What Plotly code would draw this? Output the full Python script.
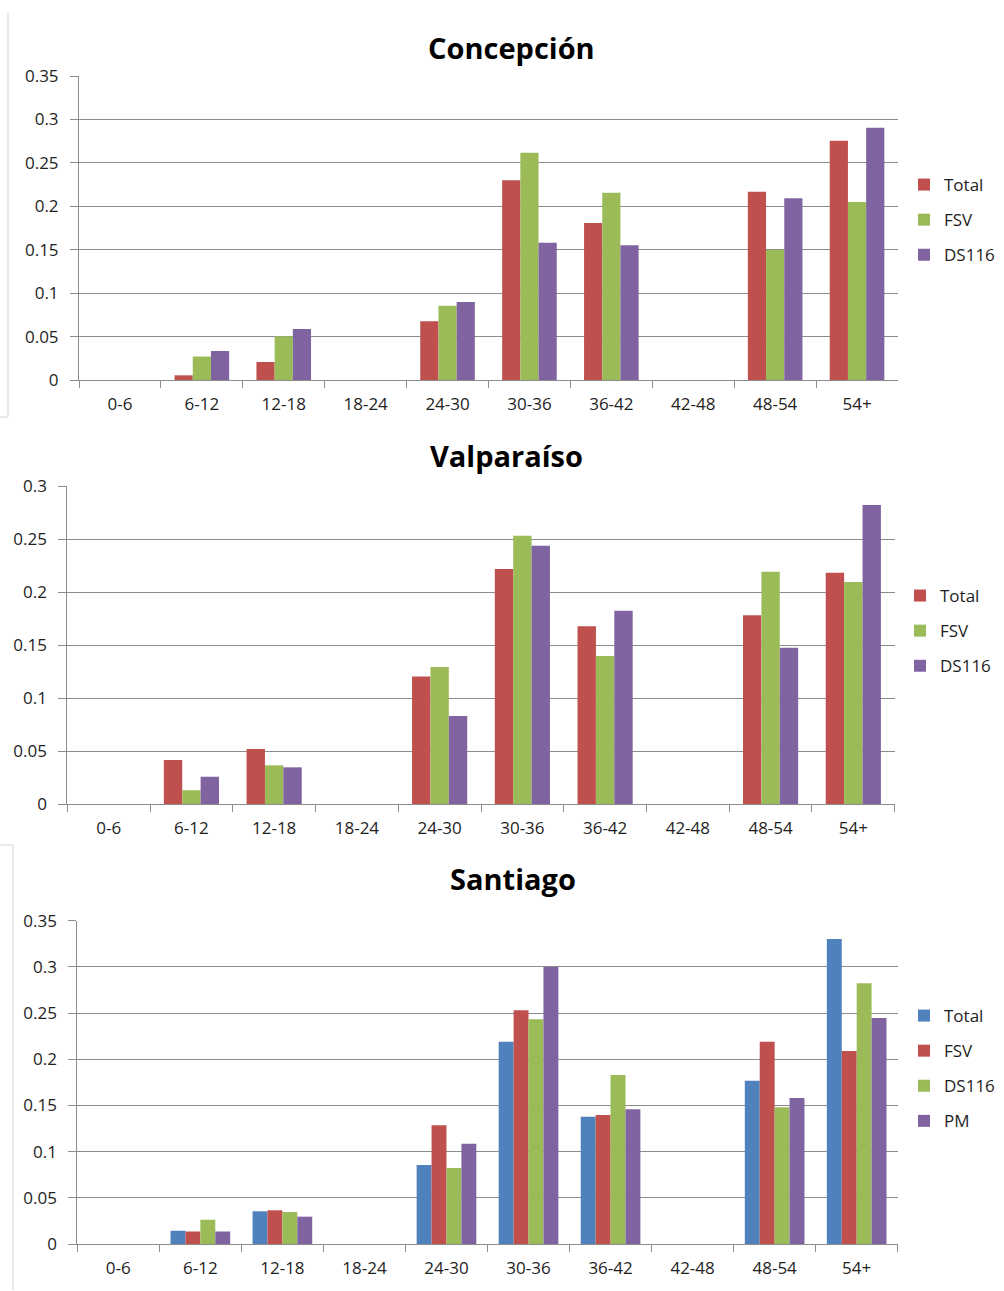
import plotly.graph_objects as go

W, H = 1004, 1291

age_groups = ["0-6", "6-12", "12-18", "18-24", "24-30", "30-36", "36-42", "42-48", "48-54", "54+"]

# Concepción
conc_total = [None, 0.0054, 0.0207, None, 0.0675, 0.2300, 0.1808, None, 0.2168, 0.2755]
conc_fsv = [None, 0.0270, 0.0503, None, 0.0856, 0.2617, 0.2157, None, 0.1497, 0.2049]
conc_ds116 = [None, 0.0334, 0.0587, None, 0.0898, 0.1580, 0.1550, None, 0.2092, 0.2905]

# Valparaíso
valp_total = [None, 0.0415, 0.0519, None, 0.1204, 0.2217, 0.1676, None, 0.1780, 0.2182]
valp_fsv = [None, 0.0129, 0.0365, None, 0.1292, 0.2531, 0.1396, None, 0.2192, 0.2094]
valp_ds116 = [None, 0.0258, 0.0346, None, 0.0830, 0.2437, 0.1824, None, 0.1475, 0.2821]

# Santiago
stgo_total = [None, 0.0144, 0.0354, None, 0.0855, 0.2190, 0.1378, None, 0.1768, 0.3302]
stgo_fsv = [None, 0.0134, 0.0365, None, 0.1285, 0.2530, 0.1396, None, 0.2190, 0.2089]
stgo_ds116 = [None, 0.0263, 0.0346, None, 0.0823, 0.2432, 0.1830, None, 0.1480, 0.2822]
stgo_pm = [None, 0.0134, 0.0296, None, 0.1086, 0.2998, 0.1458, None, 0.1580, 0.2446]

BLUE, RED, GREEN, PURPLE = "#4F81BD", "#C0504D", "#9BBB59", "#8064A2"
GRID = "#8c8c8c"
TXT = "#1e1e1e"
FONT = "Open Sans"
GAP = 1.5  # gap between groups, as a fraction of one bar width


def px_x(x):
    return x / W


def px_y(y):
    return 1 - y / H


panels = [
    dict(title="Concepción", axis="", legend="legend", ymax=0.35,
         x=(79, 898), y=(76, 380), title_pos=(511, 47), legend_pos=(904, 167),
         series=[("Total", conc_total, RED), ("FSV", conc_fsv, GREEN),
                 ("DS116", conc_ds116, PURPLE)]),
    dict(title="Valparaíso", axis="2", legend="legend2", ymax=0.30,
         x=(67.3, 894.7), y=(486, 804), title_pos=(506, 455), legend_pos=(900, 578),
         series=[("Total", valp_total, RED), ("FSV", valp_fsv, GREEN),
                 ("DS116", valp_ds116, PURPLE)]),
    dict(title="Santiago", axis="3", legend="legend3", ymax=0.35,
         x=(77.3, 897.7), y=(920.7, 1244), title_pos=(513, 879), legend_pos=(904, 998),
         series=[("Total", stgo_total, BLUE), ("FSV", stgo_fsv, RED),
                 ("DS116", stgo_ds116, GREEN), ("PM", stgo_pm, PURPLE)]),
]

fig = go.Figure()
layout = dict(
    width=W, height=H, margin=dict(l=0, r=0, t=0, b=0, pad=0, autoexpand=False),
    paper_bgcolor="white", plot_bgcolor="white",
    font=dict(family=FONT, size=17, color=TXT),
    barmode="group", showlegend=True, annotations=[], shapes=[],
)

for p in panels:
    n = len(p["series"])
    bw = 1.0 / (n + GAP)
    xa = "x" + p["axis"]
    ya = "y" + p["axis"]
    for i, (name, vals, color) in enumerate(p["series"]):
        fig.add_trace(go.Bar(
            x=age_groups, y=vals, name=name,
            marker=dict(color=color, line=dict(width=0)),
            width=bw, offset=-n * bw / 2 + i * bw,
            xaxis=xa, yaxis=ya, legend=p["legend"],
            legendgroup=p["legend"] + name,
        ))
    layout["xaxis" + p["axis"]] = dict(
        domain=[px_x(p["x"][0]), px_x(p["x"][1])], anchor=ya,
        type="category", categoryorder="array", categoryarray=age_groups,
        range=[-0.5, len(age_groups) - 0.5],
        showline=True, linecolor=GRID, linewidth=1,
        ticks="outside", tickson="boundaries", ticklen=7, tickcolor=GRID,
        showgrid=False, tickfont=dict(size=17, color=TXT), ticklabelstandoff=9,
    )
    layout["yaxis" + p["axis"]] = dict(
        domain=[px_y(p["y"][1]), px_y(p["y"][0])], anchor=xa,
        range=[0, p["ymax"]], dtick=0.05, tick0=0,
        showgrid=True, gridcolor=GRID, gridwidth=1, zeroline=False,
        showline=True, linecolor=GRID, linewidth=1,
        ticks="outside", ticklen=8, tickcolor=GRID,
        tickfont=dict(size=17, color=TXT), ticklabelstandoff=8,
    )
    layout[p["legend"]] = dict(
        x=px_x(p["legend_pos"][0]), y=px_y(p["legend_pos"][1]),
        xanchor="left", yanchor="top", bgcolor="rgba(0,0,0,0)",
        font=dict(family=FONT, size=17, color=TXT), tracegroupgap=10,
    )
    layout["annotations"].append(dict(
        text="<b>" + p["title"] + "</b>", showarrow=False,
        xref="paper", yref="paper",
        x=px_x(p["title_pos"][0]), y=px_y(p["title_pos"][1]),
        xanchor="center", yanchor="middle",
        font=dict(family=FONT, size=29, color="#000000"),
    ))

# thin frame edges of the chart boxes
FRAME = "#d4d4d4"
for x0, y0, x1, y1 in [(8, 12, 8, 417), (0, 417, 8, 417),
                       (13, 845, 13, 1290), (0, 845, 13, 845)]:
    layout["shapes"].append(dict(
        type="line", xref="paper", yref="paper",
        x0=px_x(x0), y0=px_y(y0), x1=px_x(x1), y1=px_y(y1),
        line=dict(color=FRAME, width=1),
    ))

fig.update_layout(**layout)
fig.write_html("out.html")
